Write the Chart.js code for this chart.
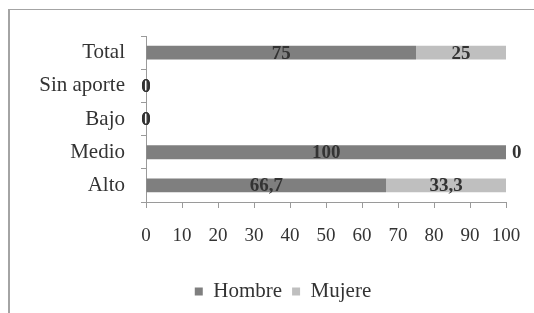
<!DOCTYPE html>
<html>
<head>
<meta charset="utf-8">
<script src="https://cdn.jsdelivr.net/npm/chart.js@4.4.0/dist/chart.umd.min.js"></script>
<style>
  html, body { margin: 0; padding: 0; background: #fff; }
  #wrap { position: relative; width: 534px; height: 313px; overflow: hidden; }
  #frame {
    position: absolute; left: 8px; top: 9px; width: 600px; height: 400px;
    border-left: 2px solid #a4a4a4; border-top: 1px solid #a4a4a4;
  }
  canvas { position: absolute; left: 0; top: 0; }
</style>
</head>
<body>
<div id="wrap">
  <div id="frame"></div>
  <canvas id="chart" width="534" height="313"></canvas>
</div>
<script>
const categories = ['Total', 'Sin aporte', 'Bajo', 'Medio', 'Alto'];
const hombre = [75, 0, 0, 100, 66.7];
const mujere = [25, 0, 0, 0, 33.3];
const seriesNames = ['Hombre', 'Mujere'];
const xTicks = [0, 10, 20, 30, 40, 50, 60, 70, 80, 90, 100];

const serif = "'Liberation Serif', 'DejaVu Serif', serif";
const textColor = '#333';
const axisColor = '#9a9a9a';

// draws the value on each bar segment, comma as decimal mark
const valueLabels = {
  id: 'valueLabels',
  afterDatasetsDraw(chart) {
    const ctx = chart.ctx;
    const left = chart.chartArea.left;
    ctx.save();
    ctx.font = 'bold 19px ' + serif;
    ctx.fillStyle = textColor;
    ctx.textBaseline = 'middle';
    chart.data.datasets.forEach((ds, i) => {
      const meta = chart.getDatasetMeta(i);
      meta.data.forEach((bar, j) => {
        const v = ds.data[j];
        const txt = String(v).replace('.', ',');
        const start = Math.min(bar.x, bar.base);
        if (v === 0 && start > left + 1) {
          ctx.textAlign = 'left';
          ctx.fillText(txt, bar.x + 6, bar.y + 1);
        } else {
          ctx.textAlign = 'center';
          ctx.fillText(txt, (bar.x + bar.base) / 2, bar.y + 1);
        }
      });
    });
    ctx.restore();
  }
};

// legend sits a bit right of the canvas centre in the original
const legendShift = {
  id: 'legendShift',
  afterLayout(chart) {
    chart.legend.left += 20;
    chart.legend.right += 20;
  }
};

new Chart(document.getElementById('chart'), {
  type: 'bar',
  data: {
    labels: categories,
    datasets: [
      { label: seriesNames[0], data: hombre, backgroundColor: '#7f7f7f', categoryPercentage: 1, barPercentage: 0.42 },
      { label: seriesNames[1], data: mujere, backgroundColor: '#bfbfbf', categoryPercentage: 1, barPercentage: 0.42 }
    ]
  },
  options: {
    indexAxis: 'y',
    responsive: false,
    animation: false,
    events: [],
    layout: { padding: { left: 20, right: 28, top: 36, bottom: 1 } },
    scales: {
      x: {
        stacked: true,
        min: 0,
        max: 100,
        afterBuildTicks: (scale) => { scale.ticks = xTicks.map(v => ({ value: v })); },
        afterFit: (scale) => {
          scale.height = 69;
          // tick padding would otherwise eat into the right side
          scale.paddingLeft = 0;
          scale.paddingRight = 0;
        },
        border: { color: axisColor, width: 1 },
        grid: { drawOnChartArea: false, drawTicks: true, tickLength: 6, color: axisColor },
        ticks: { color: textColor, padding: 17, font: { family: serif, size: 19 }, maxRotation: 0 }
      },
      y: {
        stacked: true,
        afterFit: (scale) => { scale.width = 146 - 20; },
        border: { color: axisColor, width: 1 },
        grid: { drawOnChartArea: false, drawTicks: true, tickLength: 5, color: axisColor, offset: true },
        ticks: { color: textColor, padding: 16, font: { family: serif, size: 21 } }
      }
    },
    plugins: {
      legend: {
        position: 'bottom',
        labels: {
          color: textColor,
          boxWidth: 8,
          boxHeight: 8,
          padding: 10,
          font: { family: serif, size: 21 }
        }
      },
      tooltip: { enabled: false }
    }
  },
  plugins: [valueLabels, legendShift]
});
</script>
</body>
</html>
